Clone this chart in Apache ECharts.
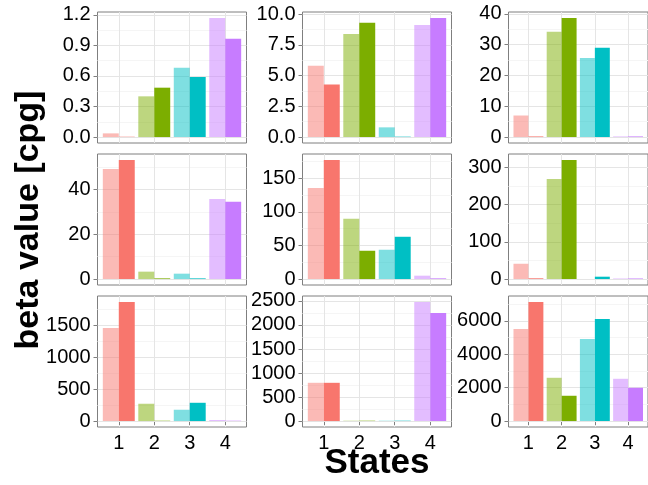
<!DOCTYPE html>
<html>
<head>
<meta charset="utf-8">
<script src="https://cdn.jsdelivr.net/npm/echarts@6/dist/echarts.min.js"></script>
<style>
  html, body { margin: 0; padding: 0; background: #ffffff; }
  #chart { width: 648px; height: 485px; }
</style>
</head>
<body>
<div id="chart"></div>
<script>
// States on the x axis and their fill colours
const states = [1, 2, 3, 4];
const stateColors = ['#F8766D', '#7CAE00', '#00BFC4', '#C77CFF'];

// Beta values per panel: light bars (first sample) and dark bars (second sample)
const r1c1Light = [0.036, 0.40, 0.68, 1.17];
const r1c1Dark  = [0.003, 0.485, 0.59, 0.965];
const r1c2Light = [5.81, 8.4, 0.79, 9.13];
const r1c2Dark  = [4.27, 9.3, 0.03, 9.7];
const r1c3Light = [7.0, 34.2, 25.7, 0.2];
const r1c3Dark  = [0.2, 38.7, 29.0, 0.2];
const r2c1Light = [49.2, 3.3, 2.4, 35.8];
const r2c1Dark  = [53.2, 0.3, 0.3, 34.5];
const r2c2Light = [135.6, 89.6, 43.6, 5.0];
const r2c2Dark  = [177.2, 42.1, 62.9, 1.0];
const r2c3Light = [41, 268.8, 0, 1.5];
const r2c3Dark  = [2, 319.6, 6.3, 1.5];
const r3c1Light = [1458, 271, 177, 16];
const r3c1Dark  = [1865, 5, 286, 5];
const r3c2Light = [796, 7, 7, 2479];
const r3c2Dark  = [796, 7, 7, 2250];
const r3c3Light = [5518, 2590, 4920, 2530];
const r3c3Dark  = [7131, 1514, 6116, 1992];

// Y tick values per panel and the decimals shown on their labels
const r1c1Ticks = [0, 0.3, 0.6, 0.9, 1.2];
const r1c2Ticks = [0, 2.5, 5, 7.5, 10];
const r1c3Ticks = [0, 10, 20, 30, 40];
const r2c1Ticks = [0, 20, 40];
const r2c2Ticks = [0, 50, 100, 150];
const r2c3Ticks = [0, 100, 200, 300];
const r3c1Ticks = [0, 500, 1000, 1500];
const r3c2Ticks = [0, 500, 1000, 1500, 2000, 2500];
const r3c3Ticks = [0, 2000, 4000, 6000];
const tickDecimals = [1, 1, 0, 0, 0, 0, 0, 0, 0];

const panelLight = [r1c1Light, r1c2Light, r1c3Light, r2c1Light, r2c2Light, r2c3Light, r3c1Light, r3c2Light, r3c3Light];
const panelDark  = [r1c1Dark, r1c2Dark, r1c3Dark, r2c1Dark, r2c2Dark, r2c3Dark, r3c1Dark, r3c2Dark, r3c3Dark];
const panelTicks = [r1c1Ticks, r1c2Ticks, r1c3Ticks, r2c1Ticks, r2c2Ticks, r2c3Ticks, r3c1Ticks, r3c2Ticks, r3c3Ticks];

// Facet layout (pixels)
const colLeft = [97.5, 302.5, 508.5];
const rowTop = [12, 154, 296];
const panelW = 149;
const panelH = 131;

const FONT = '"Liberation Sans", Arial, Helvetica, sans-serif';
const BORDER = '#7F7F7F';
const MAJOR = '#E5E5E5';
const MINOR = '#F5F5F5';

const grids = [], xAxes = [], yAxes = [], series = [];

for (let p = 0; p < 9; p++) {
  const r = Math.floor(p / 3), c = p % 3;
  const light = panelLight[p], dark = panelDark[p], ticks = panelTicks[p];
  const all = light.concat(dark);
  const lo = Math.min(0, ...all), hi = Math.max(0, ...all);
  const pad = (hi - lo) * 0.05;
  const yMin = lo - pad, yMax = hi + pad;
  const step = ticks[1] - ticks[0];
  const minor = [];
  for (let i = 0; i < ticks.length - 1; i++) minor.push((ticks[i] + ticks[i + 1]) / 2);
  if (ticks[ticks.length - 1] + step / 2 < yMax) minor.push(ticks[ticks.length - 1] + step / 2);

  grids.push({
    left: colLeft[c], top: rowTop[r], width: panelW, height: panelH,
    show: true, borderColor: BORDER, borderWidth: 1, backgroundColor: 'transparent'
  });

  const bottomRow = r === 2;
  xAxes.push({
    type: 'value', gridIndex: p, min: 0.4, max: 4.6,
    axisLine: { show: false },
    axisTick: { show: bottomRow, length: 4, lineStyle: { color: BORDER }, customValues: states },
    axisLabel: {
      show: bottomRow, customValues: states, margin: 6,
      color: '#000', fontSize: 20, fontFamily: FONT
    },
    splitLine: { show: true, lineStyle: { color: MAJOR, width: 1 } }
  });

  // major axis with labels
  yAxes.push({
    type: 'value', gridIndex: p, min: yMin, max: yMax,
    axisLine: { show: false },
    axisTick: { show: true, length: 4, lineStyle: { color: BORDER }, customValues: ticks },
    axisLabel: {
      show: true, customValues: ticks, margin: 7,
      color: '#000', fontSize: 20, fontFamily: FONT,
      formatter: (v) => Number(v).toFixed(tickDecimals[p])
    },
    splitLine: { show: true, lineStyle: { color: MAJOR, width: 1 } },
    z: 1
  });
  // companion axis carrying only the minor grid lines
  yAxes.push({
    type: 'value', gridIndex: p, min: yMin, max: yMax, position: 'left',
    axisLine: { show: false },
    axisTick: { show: false, customValues: minor },
    axisLabel: { show: false, customValues: minor },
    splitLine: { show: true, lineStyle: { color: MINOR, width: 1 } },
    z: 0
  });

  const yIdx = p * 2;
  series.push({
    type: 'bar', xAxisIndex: p, yAxisIndex: yIdx,
    barWidth: '45%', barGap: '0%',
    data: states.map((s, i) => [s, light[i]]),
    itemStyle: { color: (prm) => stateColors[prm.dataIndex], opacity: 0.5 },
    emphasis: { disabled: true },
    animation: false, z: 3
  });
  series.push({
    type: 'bar', xAxisIndex: p, yAxisIndex: yIdx,
    barWidth: '45%', barGap: '0%',
    data: states.map((s, i) => [s, dark[i]]),
    itemStyle: { color: (prm) => stateColors[prm.dataIndex] },
    emphasis: { disabled: true },
    animation: false, z: 3
  });
}

const chart = echarts.init(document.getElementById('chart'), null, { renderer: 'canvas' });
chart.setOption({
  backgroundColor: '#ffffff',
  animation: false,
  grid: grids,
  xAxis: xAxes,
  yAxis: yAxes,
  series: series,
  graphic: [
    {
      type: 'text', x: 377, y: 463,
      style: {
        text: 'States', fontSize: 35, fontWeight: 'bold', fontFamily: FONT,
        fill: '#000', textAlign: 'center', textVerticalAlign: 'middle'
      }
    },
    {
      type: 'text', x: 29, y: 220, rotation: Math.PI / 2,
      style: {
        text: 'beta value [cpg]', fontSize: 34, fontWeight: 'bold', fontFamily: FONT,
        fill: '#000', textAlign: 'center', textVerticalAlign: 'middle'
      }
    }
  ]
});
</script>
</body>
</html>
